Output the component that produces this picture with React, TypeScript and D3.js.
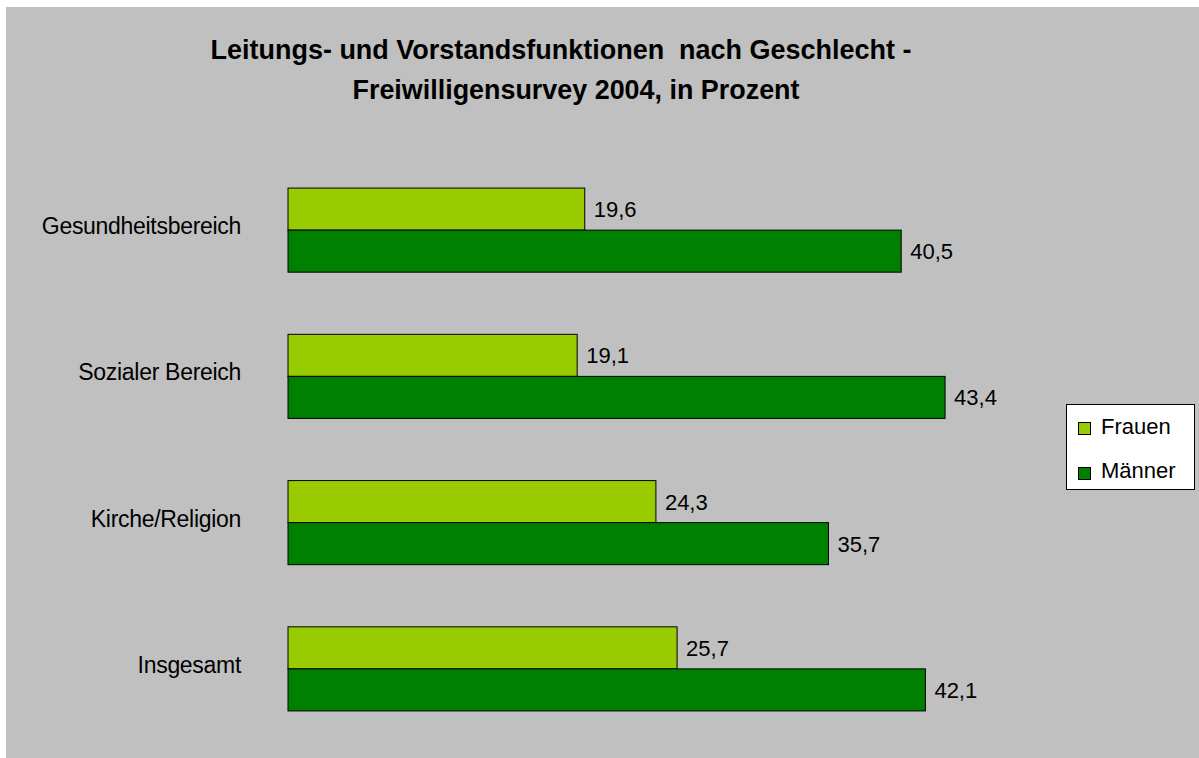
import React from "react";
import * as d3 from "d3";

const categories = ["Gesundheitsbereich", "Sozialer Bereich", "Kirche/Religion", "Insgesamt"];
const series = ["Frauen", "Männer"];
const frauen = [19.6, 19.1, 24.3, 25.7];
const maenner = [40.5, 43.4, 35.7, 42.1];
const titleLines = ["Leitungs- und Vorstandsfunktionen  nach Geschlecht -", "Freiwilligensurvey 2004, in Prozent"];

const colors = ["#99cc00", "#008000"];
const W = 1199;
const H = 758;
const FONT = "'Liberation Sans', Arial, Helvetica, sans-serif";

export default function App() {
  const values = [frauen, maenner];
  const y = d3.scaleBand<string>().domain(categories).range([157, 742]).paddingInner(0.425).paddingOuter(0.2125);
  const ySub = d3.scaleBand<string>().domain(series).range([0, y.bandwidth()]);
  const x = d3.scaleLinear().domain([0, 50]).range([288, 288 + 757]);
  const fmt = (v: number) => d3.format(".1f")(v).replace(".", ",");

  return (
    <svg width={W} height={H} style={{ position: "absolute", left: 0, top: 0, display: "block" }} fontFamily={FONT}>
      <rect x={0} y={0} width={W} height={H} fill="#ffffff" />
      <rect x={6} y={7} width={W - 6} height={H - 7} fill="#c0c0c0" />
      <text x={561} y={59} textAnchor="middle" fontSize={27} fontWeight="bold" fill="#000" style={{ whiteSpace: "pre" }} textLength={701} lengthAdjust="spacingAndGlyphs">
        {titleLines[0]}
      </text>
      <text x={576} y={99} textAnchor="middle" fontSize={27} fontWeight="bold" fill="#000" textLength={447} lengthAdjust="spacingAndGlyphs">
        {titleLines[1]}
      </text>
      {categories.map((c, i) => (
        <g key={c}>
          <text x={241} y={(y(c) as number) + y.bandwidth() / 2 + 4} textAnchor="end" fontSize={23} letterSpacing={-0.3} fill="#000">
            {c}
          </text>
          {series.map((s, j) => {
            const v = values[j][i];
            const by = (y(c) as number) + (ySub(s) as number);
            return (
              <g key={s}>
                <rect x={x(0)} y={by} width={x(v) - x(0)} height={ySub.bandwidth()} fill={colors[j]} stroke="#000" strokeWidth={1} />
                <text x={x(v) + 9} y={by + ySub.bandwidth() / 2 + 8} fontSize={22} fill="#000">
                  {fmt(v)}
                </text>
              </g>
            );
          })}
        </g>
      ))}
      <g>
        <rect x={1066.5} y={404.5} width={128} height={85} fill="#ffffff" stroke="#000" strokeWidth={1} />
        {series.map((s, j) => (
          <g key={s}>
            <rect x={1078.5} y={422.5 + j * 45} width={12} height={12} fill={colors[j]} stroke="#000" strokeWidth={1} />
            <text x={1101} y={434 + j * 44} fontSize={22} fill="#000">
              {s}
            </text>
          </g>
        ))}
      </g>
    </svg>
  );
}
